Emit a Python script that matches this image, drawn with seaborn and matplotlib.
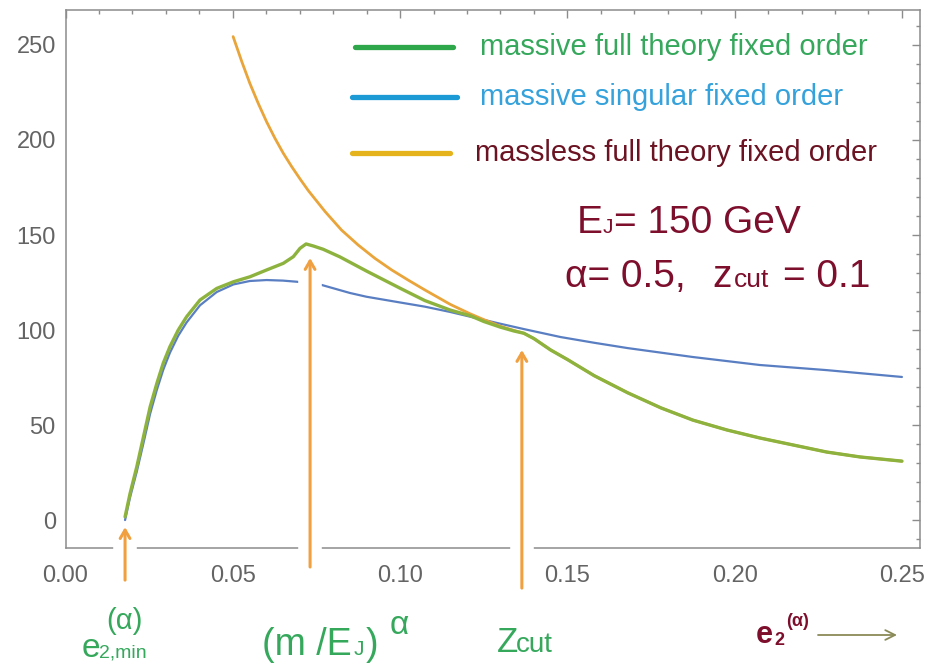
import numpy as np
import pandas as pd
import matplotlib.pyplot as plt
import seaborn as sns
from matplotlib.lines import Line2D
from matplotlib.ticker import MultipleLocator, FormatStrFormatter

# curve values
full_x = [0.0178, 0.0193, 0.0213, 0.0233, 0.0253, 0.0273, 0.0292, 0.0312, 0.0337,
          0.0362, 0.0402, 0.0452, 0.0502, 0.0551, 0.0601, 0.0651, 0.0681, 0.0701,
          0.0719, 0.0741, 0.077, 0.082, 0.090, 0.100, 0.1074, 0.115, 0.121,
          0.125, 0.130, 0.134, 0.137, 0.140, 0.145, 0.150, 0.158, 0.168, 0.178,
          0.1875, 0.1977, 0.2075, 0.2175, 0.2275, 0.2375, 0.250]
full_y = [1.7, 14.0, 28.0, 43.8, 59.6, 71.9, 82.5, 91.2, 100.0,
          107.0, 115.8, 121.9, 125.4, 128.0, 131.6, 135.1, 138.6, 143.0,
          145.3, 144.2, 142.5, 138.5, 131.0, 122.0, 115.5, 110.5, 107.5,
          104.5, 101.5, 99.5, 98.3, 95.5, 89.5, 84.5, 76.0, 67.0, 59.0,
          52.6, 47.4, 43.2, 39.5, 35.8, 33.2, 31.0]

sing_x = [0.0178, 0.0193, 0.0213, 0.0233, 0.0253, 0.0273, 0.0292, 0.0312, 0.0337,
          0.0362, 0.0402, 0.0452, 0.0502, 0.0551, 0.0601, 0.065, 0.0692, 0.0766,
          0.085, 0.090, 0.100, 0.1074, 0.115, 0.121, 0.130, 0.137, 0.148, 0.158,
          0.168, 0.1875, 0.2075, 0.2275, 0.250]
sing_y = [0.0, 12.0, 25.5, 40.5, 56.0, 68.5, 79.0, 88.0, 97.0,
          104.0, 113.0, 120.0, 124.0, 125.8, 126.3, 126.0, 125.4, 123.7,
          119.5, 117.5, 114.5, 112.3, 109.5, 107.0, 103.3, 100.5, 96.3, 93.3,
          90.5, 85.8, 81.6, 78.9, 75.3]

mless_x = [0.0501, 0.0527, 0.0551, 0.0576, 0.0601, 0.0626, 0.0651, 0.0676, 0.0701,
           0.0726, 0.0776, 0.0825, 0.0875, 0.0925, 0.0975, 0.1024, 0.1074, 0.115,
           0.121, 0.125, 0.130, 0.134, 0.137, 0.140, 0.145, 0.150, 0.158, 0.168,
           0.178, 0.1875, 0.1977, 0.2075, 0.2175, 0.2275, 0.2375, 0.250]
mless_y = [254.4, 241.2, 229.8, 219.3, 209.6, 200.9, 193.0, 186.0, 179.5,
           173.3, 162.3, 152.6, 144.7, 137.7, 131.6, 126.3, 121.1, 113.5,
           108.5, 105.5, 102.0, 99.8, 98.3, 95.5, 89.5, 84.5, 76.0, 67.0,
           59.0, 52.6, 47.4, 43.2, 39.5, 35.8, 33.2, 31.0]

# marker arrows: x position, foot, tip
arrow_x = [0.0178, 0.0731, 0.1364]
arrow_foot = [-31.6, -24.7, -35.8]
arrow_tip = [-3.7, 137.9, 89.5]

legend_labels = ["massive full theory fixed order",
                 "massive singular fixed order",
                 "massless full theory fixed order"]

W, H = 930, 665
GREEN_TXT = "#35a85c"
BLUE_TXT = "#35a2dc"
DARKRED = "#7d0f2d"
ORANGE = "#f0a040"

sns.set_style("white")
plt.rcParams['font.family'] = ['Liberation Sans', 'DejaVu Sans']

fig = plt.figure(figsize=(W / 100, H / 100), dpi=100)
ax = fig.add_axes([65.5 / W, (H - 548) / H, 854.5 / W, 538 / H])


def px(x, y):
    return x / W, 1 - y / H


full = pd.DataFrame({"x": full_x, "y": full_y})
sing = pd.DataFrame({"x": sing_x, "y": sing_y})
mless = pd.DataFrame({"x": mless_x, "y": mless_y})

sns.lineplot(data=sing, x="x", y="y", ax=ax, color="#5a7ec2", lw=1.6, zorder=2)
sns.lineplot(data=mless, x="x", y="y", ax=ax, color="#e9a43a", lw=2.0, zorder=5)
sns.lineplot(data=full, x="x", y="y", ax=ax, color="#8db33e", lw=2.4, zorder=6)

# arrows with a white gap behind them
for xa, y0, y1 in zip(arrow_x, arrow_foot, arrow_tip):
    ax.plot([xa, xa], [y0, y1], color="white", lw=17, solid_capstyle="butt",
            clip_on=False, zorder=3)
    ax.annotate("", xy=(xa, y1), xytext=(xa, y0), annotation_clip=False,
                arrowprops=dict(arrowstyle="->,head_length=0.6,head_width=0.35",
                                color=ORANGE, lw=2.2, shrinkA=0, shrinkB=0),
                zorder=4)

ax.set_xlim(0, 0.2554)
ax.set_ylim(-14.7, 268.4)
ax.set_xlabel("")
ax.set_ylabel("")
ax.xaxis.set_major_locator(MultipleLocator(0.05))
ax.xaxis.set_minor_locator(MultipleLocator(0.01))
ax.yaxis.set_major_locator(MultipleLocator(50))
ax.yaxis.set_minor_locator(MultipleLocator(10))
ax.xaxis.set_major_formatter(FormatStrFormatter("%.2f"))
ax.tick_params(which="both", direction="in", top=True, right=True,
               color="#8c8c8c", width=1)
ax.tick_params(which="major", length=6)
ax.tick_params(which="minor", length=3)
ax.tick_params(axis="x", which="major", pad=12, labelsize=17, labelcolor="#646464")
ax.tick_params(axis="y", which="major", pad=7, labelsize=17, labelcolor="#646464")
for s in ax.spines.values():
    s.set_color("#8c8c8c")
    s.set_linewidth(1.1)

# legend drawn by hand
leg_cols = ["#2ea64a", "#1c9ad6", "#e5b31c"]
leg_txt_cols = [GREEN_TXT, BLUE_TXT, "#6b1322"]
leg_y = [47, 97, 153]
leg_x = [(355, 453), (352, 457), (352, 450)]
leg_tx = [480, 480, 475]
for col, tcol, yy, (xa, xb), tx, lab in zip(leg_cols, leg_txt_cols, leg_y, leg_x, leg_tx, legend_labels):
    fig.add_artist(Line2D([xa / W, xb / W], [1 - yy / H] * 2, color=col, lw=3.8))
    fig.text(*px(tx, yy), lab, color=tcol, fontsize=21, va="center", ha="left")

# parameter block
fig.text(*px(577, 233), "E", color=DARKRED, fontsize=28, va="baseline")
fig.text(*px(603, 233), "J", color=DARKRED, fontsize=15, va="baseline")
fig.text(*px(614, 233), "= 150 GeV", color=DARKRED, fontsize=28, va="baseline")
fig.text(*px(565, 287), "α= 0.5,", color=DARKRED, fontsize=28, va="baseline")
fig.text(*px(712, 287), "z", color=DARKRED, fontsize=28, va="baseline")
fig.text(*px(734, 287), "cut", color=DARKRED, fontsize=19, va="baseline")
fig.text(*px(783, 287), "= 0.1", color=DARKRED, fontsize=28, va="baseline")

# labels under the arrows
fig.text(*px(124, 621), "(α)", color=GREEN_TXT, fontsize=21, ha="center", va="center")
fig.text(*px(82, 657), "e", color=GREEN_TXT, fontsize=24, va="baseline")
fig.text(*px(99, 657), "2,min", color=GREEN_TXT, fontsize=14, va="baseline")

fig.text(*px(262, 655), "(m /E", color=GREEN_TXT, fontsize=27, va="baseline")
fig.text(*px(354, 655), "J", color=GREEN_TXT, fontsize=15, va="baseline")
fig.text(*px(366, 655), ")", color=GREEN_TXT, fontsize=27, va="baseline")
fig.text(*px(390, 634), "α", color=GREEN_TXT, fontsize=24, va="baseline")

fig.text(*px(497, 652), "Z", color=GREEN_TXT, fontsize=25, va="baseline")
fig.text(*px(516, 652), "cut", color=GREEN_TXT, fontsize=20, va="baseline")

fig.text(*px(756, 643), "e", color=DARKRED, fontsize=22, fontweight="bold", va="baseline")
fig.text(*px(774, 645), "2", color=DARKRED, fontsize=13, fontweight="bold", va="baseline")
fig.text(*px(786, 626), "(α)", color=DARKRED, fontsize=13, fontweight="bold", va="baseline")
ax.annotate("", xy=(897, H - 635), xytext=(818, H - 635), xycoords="figure pixels",
            arrowprops=dict(arrowstyle="->,head_length=0.7,head_width=0.35",
                            color="#8a8a58", lw=1.3, shrinkA=0, shrinkB=0))

fig.savefig("out.png", dpi=100)
